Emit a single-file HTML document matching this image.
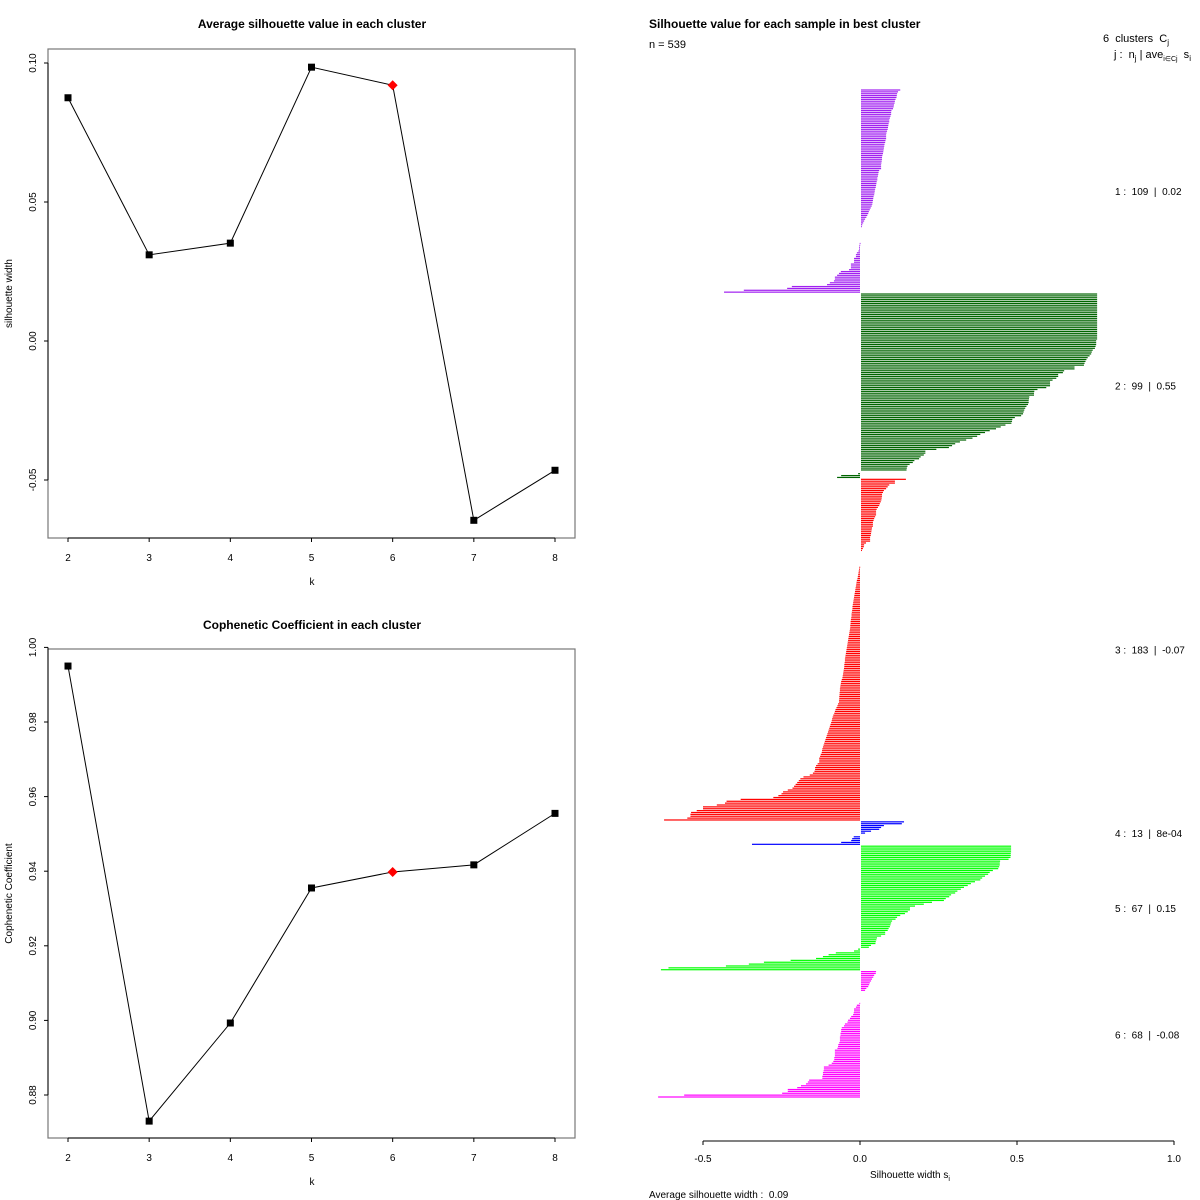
<!DOCTYPE html>
<html><head><meta charset="utf-8"><style>
html,body{margin:0;padding:0;background:#fff}
svg{display:block;font-family:"Liberation Sans",Arial,sans-serif}
.pre{white-space:pre}
</style></head><body>
<svg id="chart" width="1200" height="1200" viewBox="0 0 1200 1200" xmlns="http://www.w3.org/2000/svg">
<rect width="1200" height="1200" fill="#fff"/>
<g id="top"></g>
<g id="bot"></g>
<g id="sil"></g>
</svg>
<script>
// ---- Line chart data ----
const ks = [2,3,4,5,6,7,8];
const silAvg = [0.0875,0.031,0.0352,0.0985,0.092,-0.0645,-0.0465];
const silTicks = [0.10,0.05,0.00,-0.05];
const silTickLabels = ["0.10","0.05","0.00","-0.05"];
const coph = [0.9950,0.873,0.8993,0.9355,0.9398,0.9417,0.9555];
const cophTicks = [1.00,0.98,0.96,0.94,0.92,0.90,0.88];
const cophTickLabels = ["1.00","0.98","0.96","0.94","0.92","0.90","0.88"];
const bestK = 6;

// ---- Silhouette data (sorted within cluster) ----
const clusterIds = [1,2,3,4,5,6];
const clusterSizes = [109,99,183,13,67,68];
const clusterAvg = ["0.02","0.55","-0.07","8e-04","0.15","-0.08"];
const clusterColors = ["#A020F0","#006400","#FF0000","#0000FF","#00FF00","#FF00FF"];
const sil1 = [0.125,0.118,0.115,0.114,0.113,0.11,0.108,0.107,0.105,0.104,0.102,0.097,0.096,0.096,0.094,0.092,0.09,0.09,0.088,0.087,0.086,0.085,0.083,0.081,0.08,0.08,0.08,0.078,0.077,0.075,0.074,0.073,0.072,0.071,0.07,0.068,0.067,0.067,0.066,0.065,0.064,0.064,0.064,0.058,0.056,0.055,0.054,0.052,0.052,0.05,0.049,0.048,0.047,0.045,0.044,0.043,0.042,0.04,0.039,0.038,0.037,0.036,0.034,0.031,0.028,0.025,0.023,0.02,0.017,0.013,0.01,0.007,0.004,0.002,0,0,0,0,0,0,0,0,-0.001,-0.002,-0.003,-0.003,-0.005,-0.01,-0.013,-0.013,-0.019,-0.019,-0.019,-0.029,-0.029,-0.029,-0.035,-0.061,-0.067,-0.073,-0.08,-0.08,-0.083,-0.096,-0.105,-0.217,-0.232,-0.37,-0.433];
const sil2 = [0.752,0.752,0.752,0.752,0.752,0.752,0.752,0.752,0.752,0.752,0.752,0.752,0.752,0.752,0.752,0.752,0.752,0.752,0.752,0.752,0.752,0.752,0.752,0.752,0.752,0.749,0.749,0.749,0.747,0.745,0.738,0.735,0.733,0.728,0.722,0.718,0.715,0.712,0.71,0.68,0.68,0.647,0.643,0.628,0.628,0.622,0.61,0.602,0.602,0.602,0.59,0.562,0.552,0.551,0.551,0.536,0.535,0.534,0.534,0.532,0.527,0.523,0.52,0.518,0.516,0.51,0.49,0.482,0.481,0.479,0.46,0.445,0.43,0.41,0.395,0.38,0.37,0.355,0.335,0.315,0.3,0.29,0.28,0.24,0.205,0.205,0.2,0.19,0.185,0.17,0.165,0.155,0.148,0.146,0.145,0,-0.006,-0.06,-0.073];
const sil3 = [0.143,0.108,0.108,0.09,0.085,0.08,0.073,0.07,0.067,0.067,0.066,0.065,0.063,0.06,0.058,0.054,0.05,0.048,0.048,0.048,0.045,0.042,0.04,0.038,0.038,0.038,0.035,0.034,0.033,0.032,0.031,0.029,0.029,0.029,0.016,0.01,0.009,0.006,0.003,0,0,0,0,0,0,0,0,-0.002,-0.003,-0.004,-0.005,-0.006,-0.007,-0.008,-0.01,-0.011,-0.012,-0.013,-0.014,-0.015,-0.016,-0.017,-0.018,-0.019,-0.02,-0.021,-0.022,-0.023,-0.024,-0.024,-0.025,-0.026,-0.027,-0.027,-0.028,-0.029,-0.03,-0.03,-0.031,-0.031,-0.032,-0.033,-0.034,-0.035,-0.036,-0.037,-0.038,-0.039,-0.04,-0.041,-0.042,-0.043,-0.044,-0.045,-0.046,-0.047,-0.048,-0.048,-0.049,-0.05,-0.05,-0.051,-0.052,-0.053,-0.054,-0.055,-0.056,-0.058,-0.06,-0.061,-0.062,-0.063,-0.064,-0.064,-0.065,-0.065,-0.066,-0.066,-0.067,-0.067,-0.07,-0.072,-0.075,-0.078,-0.08,-0.082,-0.085,-0.087,-0.089,-0.09,-0.092,-0.094,-0.096,-0.098,-0.1,-0.102,-0.104,-0.106,-0.108,-0.11,-0.112,-0.114,-0.116,-0.118,-0.12,-0.121,-0.122,-0.125,-0.127,-0.13,-0.13,-0.13,-0.135,-0.14,-0.143,-0.143,-0.145,-0.15,-0.16,-0.18,-0.19,-0.195,-0.2,-0.205,-0.21,-0.215,-0.23,-0.245,-0.25,-0.26,-0.276,-0.38,-0.425,-0.43,-0.456,-0.5,-0.5,-0.52,-0.538,-0.54,-0.54,-0.55,-0.624];
const sil4 = [0.137,0.13,0.073,0.064,0.058,0.032,0.013,0,-0.02,-0.025,-0.028,-0.06,-0.344];
const sil5 = [0.478,0.478,0.478,0.478,0.477,0.477,0.476,0.47,0.443,0.442,0.442,0.44,0.437,0.42,0.41,0.405,0.395,0.386,0.38,0.363,0.35,0.34,0.328,0.318,0.307,0.3,0.287,0.281,0.27,0.264,0.226,0.2,0.172,0.156,0.156,0.149,0.14,0.125,0.115,0.11,0.099,0.096,0.094,0.092,0.088,0.085,0.077,0.077,0.064,0.051,0.049,0.047,0.046,0.032,0.025,-0.006,-0.019,-0.077,-0.1,-0.118,-0.14,-0.221,-0.306,-0.354,-0.427,-0.61,-0.634];
const sil6 = [0.048,0.047,0.042,0.039,0.035,0.032,0.028,0.026,0.023,0.017,0.013,0,0,0,0,0,0,-0.002,-0.01,-0.013,-0.019,-0.019,-0.02,-0.022,-0.028,-0.032,-0.038,-0.04,-0.048,-0.051,-0.058,-0.06,-0.06,-0.062,-0.062,-0.064,-0.064,-0.064,-0.066,-0.069,-0.07,-0.072,-0.08,-0.08,-0.08,-0.08,-0.082,-0.082,-0.085,-0.09,-0.1,-0.115,-0.115,-0.116,-0.118,-0.118,-0.12,-0.12,-0.162,-0.166,-0.172,-0.188,-0.2,-0.23,-0.23,-0.248,-0.56,-0.643];
const silAxisTicks = [-0.5,0,0.5,1.0];
const silAxisLabels = ["-0.5","0.0","0.5","1.0"];
const totalN = 539;
const avgWidth = "0.09";

const NS = "http://www.w3.org/2000/svg";
function mk(parent, tag, attrs, text){
  const e = document.createElementNS(NS, tag);
  for (const k in attrs) e.setAttribute(k, attrs[k]);
  if (text !== undefined) e.textContent = text;
  parent.appendChild(e);
  return e;
}

function linePanel(g, cfg){
  const {x0,x1,y0,y1,yv0,yv1,vals,ticks,labels,title,ylab,titleY,prefix} = cfg;
  const xs = k => 68 + (k-2)*(555-68)/6;
  const ys = v => y1 + (v-yv0)*(y0-y1)/(yv1-yv0);
  let e;
  e = mk(g,'rect',{x:x0,y:y0,width:x1-x0,height:y1-y0,fill:'none',stroke:'#777','stroke-width':1.2});
  
  
  e = mk(g,'text',{x:312,y:titleY,'font-size':12,'font-weight':'bold','text-anchor':'middle'},title);
  
  
  e = mk(g,'line',{x1:x0,x2:x0,y1:ys(ticks[0]),y2:ys(ticks[ticks.length-1]),stroke:'#000'});
  
  
  ticks.forEach((t,i)=>{
    const y = ys(t);
    mk(g,'line',{x1:x0-4,x2:x0,y1:y,y2:y,stroke:'#000'});
    const tx = mk(g,'text',{x:0,y:0,'font-size':10,'text-anchor':'middle',transform:`translate(36,${y}) rotate(-90)`},labels[i]);
    
    
  });
  e = mk(g,'text',{x:0,y:0,'font-size':10,'text-anchor':'middle',transform:`translate(12,${(y0+y1)/2}) rotate(-90)`},ylab);
  
  
  e = mk(g,'line',{x1:xs(ks[0]),x2:xs(ks[ks.length-1]),y1:y1,y2:y1,stroke:'#000'});
  
  
  ks.forEach(k=>{
    mk(g,'line',{x1:xs(k),x2:xs(k),y1:y1,y2:y1+4,stroke:'#000'});
    const tx = mk(g,'text',{x:xs(k),y:y1+23,'font-size':10,'text-anchor':'middle'},String(k));
    
    
  });
  e = mk(g,'text',{x:312,y:y1+47,'font-size':10,'text-anchor':'middle'},'k');
  
  
  const pts = ks.map((k,i)=>xs(k)+','+ys(vals[i])).join(' ');
  e = mk(g,'polyline',{points:pts,fill:'none',stroke:'#000','stroke-width':1});
  
  
  ks.forEach((k,i)=>{
    const cx = xs(k), cy = ys(vals[i]);
    let m;
    if (k===bestK){
      m = mk(g,'polygon',{points:`${cx},${cy-5} ${cx+5},${cy} ${cx},${cy+5} ${cx-5},${cy}`,fill:'#FF0000'});
      
    } else {
      m = mk(g,'rect',{x:cx-3.5,y:cy-3.5,width:7,height:7,fill:'#000'});
      
    }
    
  });
}

linePanel(document.getElementById('top'),{x0:48,x1:575,y0:49,y1:538,yv0:(538-341)/-2780,yv1:(538-49)/2780+(538-341)/-2780,
  vals:silAvg,ticks:silTicks,labels:silTickLabels,title:'Average silhouette value in each cluster',
  ylab:'silhouette width',titleY:28,prefix:'silhouette-avg'});
linePanel(document.getElementById('bot'),{x0:48,x1:575,y0:649,y1:1138,yv0:0.88-(1138-1095)/3730,yv1:0.88-(1138-1095)/3730+(1138-649)/3730,
  vals:coph,ticks:cophTicks,labels:cophTickLabels,title:'Cophenetic Coefficient in each cluster',
  ylab:'Cophenetic Coefficient',titleY:629,prefix:'cophenetic'});

(function(){
  const g = document.getElementById('sil');
  const clusters = [sil1,sil2,sil3,sil4,sil5,sil6];
  const xz = 860, pxu = 314;
  const sx = v => xz + v*pxu;
  const yTop = 90, yBot = 1097;
  const total = clusters.reduce((a,c)=>a+c.length,0);
  const step = (yBot-yTop)/(total-1);
  let row = 0;
  clusters.forEach((vals,ci)=>{
    const cg = mk(g,'g',{});
    
    
    const startRow = row;
    vals.forEach(v=>{
      const y = yTop + row*step;
      if (v !== 0){
        const xa = v>0 ? sx(0)+1 : sx(v);
        const w = Math.abs(sx(v)-sx(0));
        const r = mk(cg,'rect',{x:xa,y:y-0.6,width:Math.max(w,0.8),height:1.2,fill:clusterColors[ci]});
        
        
      }
      row++;
    });
    const midY = yTop + ((startRow+row-1)/2)*step;
    const lbl = mk(g,'text',{x:1115,y:midY+4,'font-size':10,'class':'pre'},
      clusterIds[ci]+' :  '+clusterSizes[ci]+'  |  '+clusterAvg[ci]);
    
    
  });
  let e = mk(g,'line',{x1:sx(silAxisTicks[0]),x2:sx(silAxisTicks[silAxisTicks.length-1]),y1:1141,y2:1141,stroke:'#000'});
  
  
  silAxisTicks.forEach((t,i)=>{
    mk(g,'line',{x1:sx(t),x2:sx(t),y1:1141,y2:1145,stroke:'#000'});
    const tx = mk(g,'text',{x:sx(t),y:1162,'font-size':10,'text-anchor':'middle'},silAxisLabels[i]);
    
    
  });
  e = mk(g,'text',{x:910,y:1178,'font-size':10,'text-anchor':'middle'});
  e.innerHTML = 'Silhouette width s<tspan dy="3" font-size="7">i</tspan>';
  
  
  e = mk(g,'text',{x:649,y:1198,'font-size':10,'class':'pre'},'Average silhouette width :  '+avgWidth);
  
  
  e = mk(g,'text',{x:649,y:28,'font-size':12,'font-weight':'bold'},'Silhouette value for each sample in best cluster');
  
  
  e = mk(g,'text',{x:649,y:48,'font-size':11},'n = '+totalN);
  
  
  e = mk(g,'text',{x:1103,y:42,'font-size':11,'class':'pre'});
  e.innerHTML = clusterIds.length+'  clusters  C<tspan dy="3" font-size="8">j</tspan>';
  
  
  e = mk(g,'text',{x:1114,y:58,'font-size':11,'class':'pre'});
  e.innerHTML = 'j :  n<tspan dy="3" font-size="8">j</tspan><tspan dy="-3"> | ave</tspan><tspan dy="3" font-size="7">i∈Cj</tspan><tspan dy="-3">  s</tspan><tspan dy="3" font-size="8">i</tspan>';
  
  
})();
</script>
</body></html>
